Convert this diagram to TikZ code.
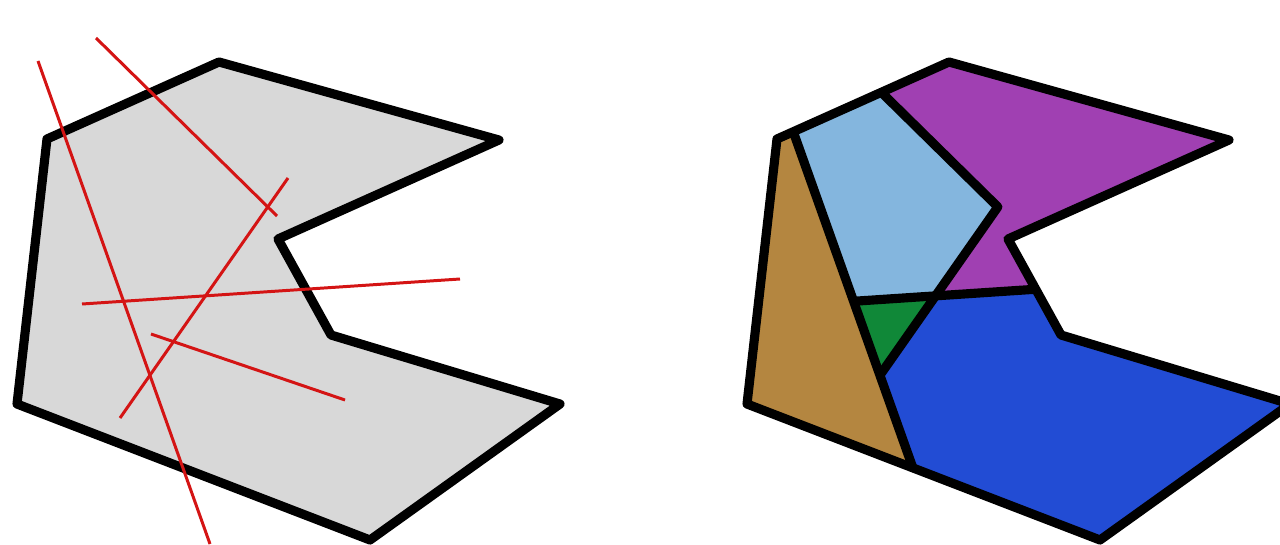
\documentclass[tikz,border=0pt]{standalone}
\definecolor{plate}{HTML}{D8D8D8}
\definecolor{cutred}{HTML}{D41414}
\definecolor{piecebrown}{HTML}{B48640}
\definecolor{piecesky}{HTML}{84B6DE}
\definecolor{piecepurple}{HTML}{A040B2}
\definecolor{piecegreen}{HTML}{108838}
\definecolor{pieceblue}{HTML}{224CD4}

% corners of the plate and ends of the five cuts
\newcommand\platepoints[1]{%
  \coordinate (#1A) at (47,139);
  \coordinate (#1B) at (219,62);
  \coordinate (#1C) at (499,140);
  \coordinate (#1D) at (278,239);
  \coordinate (#1E) at (331,335);
  \coordinate (#1F) at (560,404);
  \coordinate (#1G) at (370,540);
  \coordinate (#1H) at (17,404);
  \coordinate (#1c1s) at (38,61);   \coordinate (#1c1e) at (210,544);
  \coordinate (#1c2s) at (96,38);   \coordinate (#1c2e) at (277,216);
  \coordinate (#1c3s) at (288,178); \coordinate (#1c3e) at (120,418);
  \coordinate (#1c4s) at (82,304);  \coordinate (#1c4e) at (460,279);
  \coordinate (#1c5s) at (151,334); \coordinate (#1c5e) at (345,400);
}

\begin{document}
\begin{tikzpicture}[x=0.02cm, y=-0.02cm,
    outline/.style={line width=5.2pt, line join=round},
    cutline/.style={cutred, line width=1.7pt}]
  \useasboundingbox (0,0) rectangle (1280,544);
  \clip (0,0) rectangle (1280,544);

  \platepoints{l}
  \begin{scope}[shift={(730,0)}]
    \platepoints{r}
  \end{scope}

  % left: the plate with its cut lines
  \fill[plate] (lA) -- (lB) -- (lC) -- (lD) -- (lE) -- (lF) -- (lG) -- (lH) -- cycle;
  \draw[outline] (lA) -- (lB) -- (lC) -- (lD) -- (lE) -- (lF) -- (lG) -- (lH) -- cycle;
  \foreach \i in {1,...,5}
    \draw[cutline] (lc\i s) -- (lc\i e);

  % right: the pieces
  \coordinate (p1) at (intersection of rA--rB and rc1s--rc1e);
  \coordinate (p2) at (intersection of rA--rB and rc2s--rc2e);
  \coordinate (q)  at (intersection of rc2s--rc2e and rc3s--rc3e);
  \coordinate (s)  at (intersection of rc3s--rc3e and rc4s--rc4e);
  \coordinate (t)  at (intersection of rc1s--rc1e and rc4s--rc4e);
  \coordinate (u)  at (intersection of rD--rE and rc4s--rc4e);
  \coordinate (v)  at (intersection of rc1s--rc1e and rc3s--rc3e);
  \coordinate (w)  at (intersection of rG--rH and rc1s--rc1e);

  \fill[piecebrown] (rA) -- (p1) -- (w) -- (rH) -- cycle;
  \fill[piecesky] (p1) -- (p2) -- (q) -- (s) -- (t) -- cycle;
  \fill[piecepurple] (p2) -- (rB) -- (rC) -- (rD) -- (u) -- (s) -- (q) -- cycle;
  \fill[piecegreen] (t) -- (s) -- (v) -- cycle;
  \fill[pieceblue] (v) -- (s) -- (u) -- (rE) -- (rF) -- (rG) -- (w) -- cycle;

  \draw[outline] (rA) -- (rB) -- (rC) -- (rD) -- (rE) -- (rF) -- (rG) -- (rH) -- cycle;
  \draw[outline] (p1) -- (w);
  \draw[outline] (p2) -- (q) -- (v);
  \draw[outline] (t) -- (u);
\end{tikzpicture}
\end{document}
